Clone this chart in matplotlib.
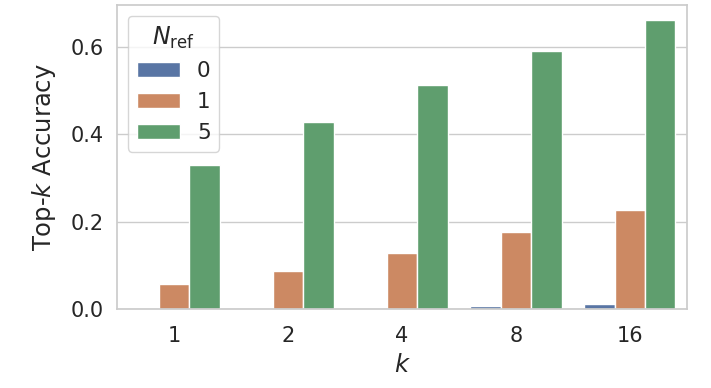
import numpy as np
import pandas as pd
import matplotlib
matplotlib.use("Agg")
import matplotlib.pyplot as plt
import seaborn as sns

k_values = ["1", "2", "4", "8", "16"]
n_ref = ["0", "1", "5"]
acc_n0 = [0.0, 0.0, 0.0, 0.006, 0.011]
acc_n1 = [0.056, 0.087, 0.129, 0.175, 0.227]
acc_n5 = [0.329, 0.428, 0.513, 0.591, 0.662]

rows = []
for n, vals in zip(n_ref, [acc_n0, acc_n1, acc_n5]):
    for k, v in zip(k_values, vals):
        rows.append({"k": k, "N": n, "acc": v})
df = pd.DataFrame(rows)

sns.set_theme(style="whitegrid")
plt.rcParams['font.family'] = ['DejaVu Sans']

fig, ax = plt.subplots(figsize=(7.11, 3.88), dpi=100)
plt.subplots_adjust(left=0.165, right=0.966, bottom=0.204, top=0.987)

sns.barplot(data=df, x="k", y="acc", hue="N", order=k_values, hue_order=n_ref,
            palette="deep", saturation=0.75, ax=ax)

ax.set_ylim(0, 0.696)
ax.set_yticks([0.0, 0.2, 0.4, 0.6])
ax.set_yticklabels(["0.0", "0.2", "0.4", "0.6"])
ax.tick_params(axis="both", labelsize=15)
ax.tick_params(axis="x", pad=6)
ax.set_xlabel("$k$", fontsize=17.5, labelpad=5.5)
ax.set_ylabel("Top-$k$ Accuracy", fontsize=17.5, labelpad=9)
for s in ax.spines.values():
    s.set_color("0.8")

ax.legend(title=r"$N_{\mathrm{ref}}$", loc="upper left", fontsize=15.5, title_fontsize=17)

fig.savefig("out.png", dpi=100)
